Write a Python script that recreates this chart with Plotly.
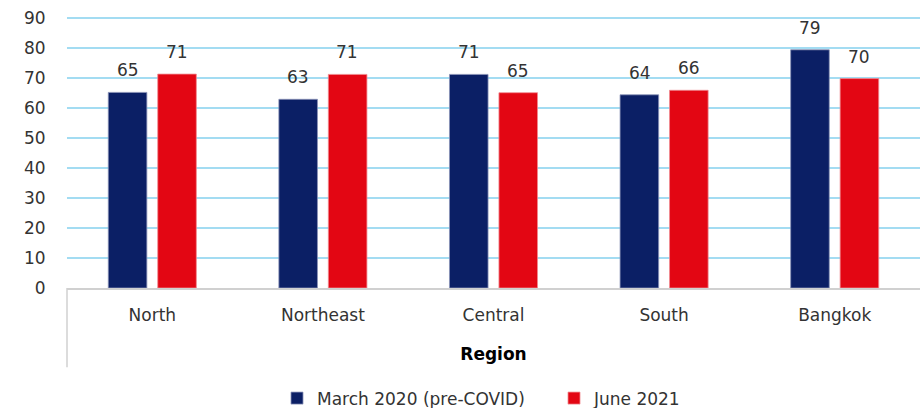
import plotly.graph_objects as go

categories = ["North", "Northeast", "Central", "South", "Bangkok"]
march_2020 = [65.2, 62.9, 71.2, 64.4, 79.4]
june_2021 = [71.3, 71.2, 65.1, 65.9, 69.8]
series_names = ["March 2020 (pre-COVID)", "June 2021"]
y_ticks = [0, 10, 20, 30, 40, 50, 60, 70, 80, 90]

FONT = "DejaVu Sans"
TXT = "#333333"
FS = 17

fig = go.Figure()
fig.add_trace(go.Bar(
    x=categories, y=march_2020, name=series_names[0],
    marker=dict(color="#0b1f65", line=dict(color="#8a93b8", width=0.8)),
))
fig.add_trace(go.Bar(
    x=categories, y=june_2021, name=series_names[1],
    marker=dict(color="#e30613", line=dict(color="#f08a90", width=0.8)),
))

# value labels above bars
for series, shift in ((march_2020, -24.5), (june_2021, 24.5)):
    for cat, v in zip(categories, series):
        fig.add_annotation(x=cat, y=v, text=f"{v:.0f}", showarrow=False,
                           xshift=shift, yshift=22, yanchor="middle",
                           font=dict(size=FS, color=TXT, family=FONT))

fig.update_layout(
    width=920, height=408,
    margin=dict(l=67, r=0, t=15, b=120, autoexpand=False),
    paper_bgcolor="white", plot_bgcolor="white",
    font=dict(family=FONT, size=FS, color=TXT),
    barmode="group", bargap=0.42, bargroupgap=0.22,
    showlegend=True,
    legend=dict(orientation="h", x=(277 - 67) / 853, xanchor="left", y=-0.405, yanchor="middle",
                font=dict(size=FS, color=TXT), traceorder="normal", itemwidth=30,
                entrywidth=232, entrywidthmode="pixels"),
)
fig.update_yaxes(
    range=[0, 91], tickvals=y_ticks, showgrid=True, gridcolor="#a3dcf2", gridwidth=1.5,
    zeroline=False, showline=False, ticks="outside", ticklen=17, tickcolor="rgba(0,0,0,0)",
    tickfont=dict(size=FS, color=TXT), automargin=False,
)
fig.update_xaxes(
    showline=True, linecolor="#d0d0d0", linewidth=1.5, showgrid=False,
    ticks="outside", ticklen=11, tickcolor="rgba(0,0,0,0)",
    tickfont=dict(size=FS, color=TXT), automargin=False,
    title=dict(text="<b>Region</b>", font=dict(size=FS, color="#000000"), standoff=24),
)
fig.add_shape(type="line", xref="paper", yref="paper", x0=0, x1=0, y0=0, y1=-0.29,
              line=dict(color="#d0d0d0", width=1.5))

fig.write_html("out.html", post_script="document.body.style.margin='0';",
               config={"displayModeBar": False})
